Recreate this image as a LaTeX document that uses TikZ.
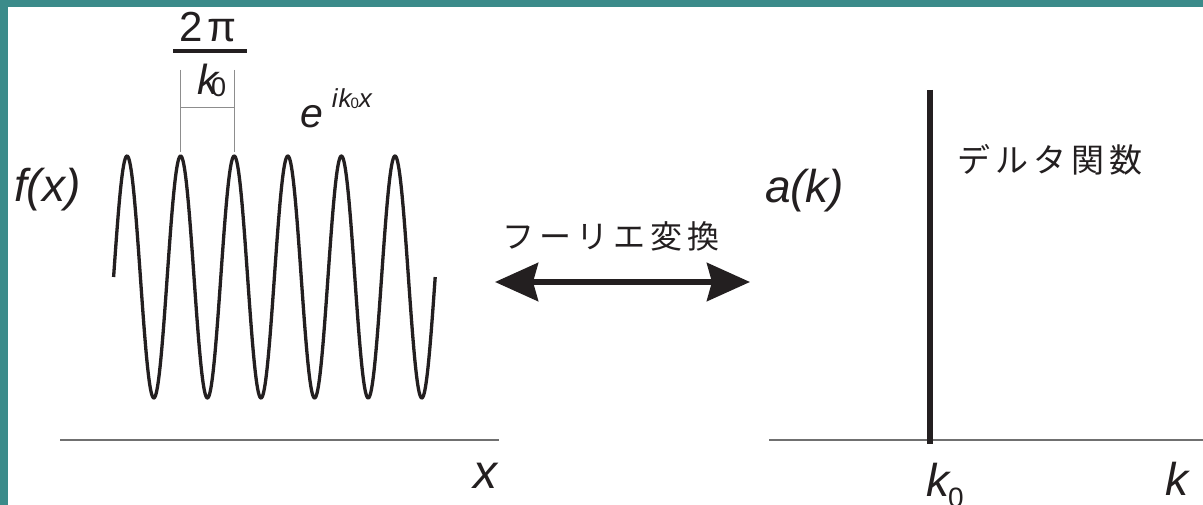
\documentclass[tikz,border=0pt]{standalone}
\usepackage{fontspec}
\setmainfont{Liberation Sans}
\newfontfamily\jp{Noto Sans CJK JP}
\usetikzlibrary{arrows.meta}
\definecolor{teal1}{HTML}{3B8B8A}
\definecolor{ink}{HTML}{231F20}
\definecolor{axisgrey}{HTML}{707070}
\newcommand{\fsz}[1]{\fontsize{#1}{#1}\selectfont}
\tikzset{
  lbl/.style={inner sep=0pt, outer sep=0pt, text=ink},
  axisline/.style={draw=axisgrey, line width=1.6pt},
  dimline/.style={draw=axisgrey!80, line width=0.8pt},
  wave/.style={draw=ink, line width=3.3pt, line join=round},
  delta/.style={draw=ink, line width=6pt},
  dbl/.style={draw=ink, line width=6pt, {Stealth[length=43pt,width=38pt,inset=5pt]}-{Stealth[length=43pt,width=38pt,inset=5pt]}}
}
\begin{document}
\begin{tikzpicture}[x=1pt,y=-1pt]
\useasboundingbox (0,0) rectangle (1203,505);
\fill[teal1] (0,0) rectangle (1203,505);
\fill[white] (8,7) rectangle (1203,505);
% axes
\coordinate (xa1) at (60,440); \coordinate (xa2) at (499,440);
\coordinate (ka1) at (769,440); \coordinate (ka2) at (1203,440);
\draw[axisline] (xa1) -- (xa2);
\draw[axisline] (ka1) -- (ka2);
% wave
\draw[wave] plot[domain=0:321.6, samples=500] ({113.6+\x}, {277 - 121*sin(6.7164*\x)});
% dimension lines
\coordinate (d1t) at (180.6,70); \coordinate (d1b) at (180.6,152);
\coordinate (d2t) at (234.2,70); \coordinate (d2b) at (234.2,152);
\coordinate (h1) at (180.6,107); \coordinate (h2) at (234.2,107);
\draw[dimline] (d1t) -- (d1b);
\draw[dimline] (d2t) -- (d2b);
\draw[dimline] (h1) -- (h2);
% fraction 2pi/k0
\node[lbl, anchor=base] (twopi) at (208,42) {\fsz{42}2\kern4pt π};
\coordinate (bar1) at (173,51); \coordinate (bar2) at (247,51);
\draw[draw=ink, line width=4pt] (bar1) -- (bar2);
\node[lbl, anchor=base west] (kfrac) at (197,95) {\fsz{42}\itshape k\kern-7pt\raisebox{-2pt}{\fsz{27}\upshape 0}};
% e^{ik0x}
\node[lbl, anchor=base west] (expo) at (300,128) {\fsz{41}\itshape e\kern9pt\raisebox{20pt}{\fsz{26}i\kern1pt k\kern-1pt\raisebox{-1pt}{\fsz{15}\upshape 0}x}};
% labels
\node[lbl, anchor=base west] (fx) at (14,202) {\fsz{46}\itshape f(x)};
\node[lbl, anchor=base west] (ak) at (765,203) {\fsz{46}\itshape a(k)};
\node[lbl, anchor=base west] (xl) at (473,488) {\fsz{48}\itshape x};
\node[lbl, anchor=base west] (kl) at (1165,495) {\fsz{46}\itshape k};
\node[lbl, anchor=base west] (k0) at (926,496) {\fsz{46}\itshape k\kern-1pt\raisebox{-11pt}{\fsz{28}\upshape 0}};
% delta function
\coordinate (dt) at (930,90); \coordinate (db) at (930,444);
\draw[delta] (dt) -- (db);
\node[lbl, anchor=center] (dl) at (1050,160) {\jp\fsz{33}デ\kern5pt ル\kern5pt タ\kern5pt 関\kern5pt 数};
% fourier
\node[lbl, anchor=center] (ft) at (611,236) {\jp\fsz{32}フ\kern5pt ー\kern5pt リ\kern5pt エ\kern5pt 変\kern5pt 換};
\coordinate (aL) at (495,282); \coordinate (aR) at (750,282);
\draw[dbl] (aL) -- (aR);
\end{tikzpicture}
\end{document}
